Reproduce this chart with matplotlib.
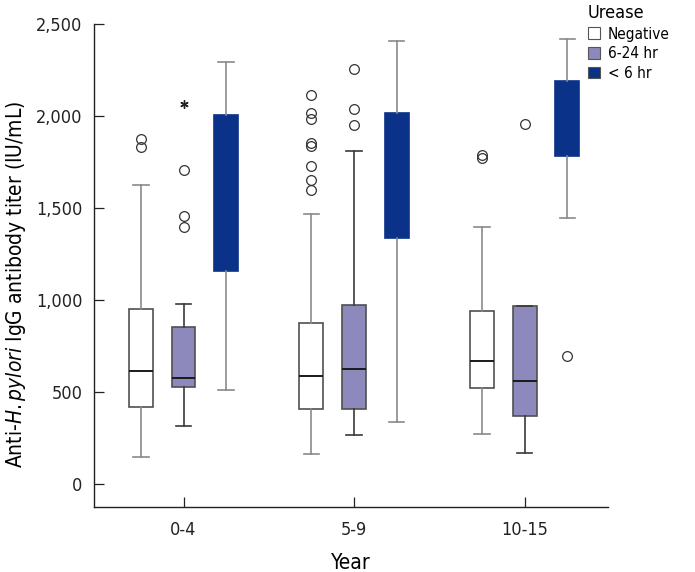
import numpy as np
import matplotlib
matplotlib.use('Agg')
import matplotlib.pyplot as plt
from matplotlib.patches import Patch
from matplotlib import font_manager

# narrow font if the condensed DejaVu face is there, else Liberation Sans
_fp = font_manager.FontProperties(family='DejaVu Sans', stretch='condensed')
if 'Condensed' in font_manager.findfont(_fp, fallback_to_default=False):
    plt.rcParams['font.family'] = ['DejaVu Sans']
    plt.rcParams['font.stretch'] = 'condensed'
    NARROW = True
else:
    plt.rcParams['font.family'] = ['Liberation Sans', 'DejaVu Sans']
    NARROW = False

# Data (IU/mL)
years = ["0-4", "5-9", "10-15"]
groups = ["Negative", "6-24 hr", "< 6 hr"]

# order: for each year, Negative / 6-24 hr / < 6 hr
whislo = [147, 317, 511,   162, 266, 337,   271, 166, 1443]
q1     = [420, 526, 1157,  406, 409, 1337,  519, 371, 1785]
med    = [615, 575, 1600,  588, 626, 1700,  670, 561, 1950]
q3     = [948, 852, 2007,  875, 970, 2014,  939, 966, 2189]
whishi = [1623, 979, 2295, 1467, 1807, 2407, 1394, 966, 2418]
fliers = [
    [1876, 1834], [1707, 1458, 1397], [],
    [2113, 2018, 1982, 1855, 1836, 1727, 1654, 1600], [2255, 2040, 1949], [],
    [1789, 1771], [1958], [697],
]
# extreme outliers (asterisk)
extreme_box = [1]
extreme_val = [2067]

face_colors = ["white", "#8d89bd", "#0a3288"]
edge_colors = ["#505050", "#505050", "#0a3288"]
whisker_colors = ["#8a8a8a", "#3a3a3a", "#8a8a8a"]

fig = plt.figure(figsize=(6.95, 5.72), dpi=100)
ax = fig.add_axes([0.135, 0.114, 0.740, 0.844])

offsets = [-0.25, 0.0, 0.25]
positions = []
for i in range(len(years)):
    for off in offsets:
        positions.append(i + 1 + off)

for k in range(len(q1)):
    g = k % 3
    stats = [dict(whislo=whislo[k], q1=q1[k], med=med[k], q3=q3[k],
                  whishi=whishi[k], fliers=fliers[k])]
    ax.bxp(stats, positions=[positions[k]], widths=0.14, patch_artist=True,
           showfliers=True,
           boxprops=dict(facecolor=face_colors[g], edgecolor=edge_colors[g], linewidth=1.2),
           medianprops=dict(color="#1a1a1a" if g < 2 else face_colors[g], linewidth=1.4),
           whiskerprops=dict(color=whisker_colors[g], linewidth=1.2),
           capprops=dict(color=whisker_colors[g], linewidth=1.2),
           capwidths=0.09,
           flierprops=dict(marker='o', markersize=7, markerfacecolor='none',
                           markeredgecolor='#333333', markeredgewidth=0.9))

for b, v in zip(extreme_box, extreme_val):
    ax.plot([positions[b]], [v], marker=(6, 2, 0), markersize=6, color='#222222',
            linestyle='none', markeredgewidth=1.0)

fs = 1.0 if NARROW else 0.92
ax.set_xlim(0.474, 3.49)
ax.set_ylim(-125, 2500)
ax.set_xticks([1, 2, 3])
ax.set_xticklabels(years)
ax.set_yticks([0, 500, 1000, 1500, 2000, 2500])
ax.set_yticklabels(["0", "500", "1,000", "1,500", "2,000", "2,500"])
ax.tick_params(axis='both', direction='in', length=7, width=0.9, labelsize=13 * fs,
               colors='#222222', pad=8)
ax.tick_params(axis='x', pad=10)
for s in ['top', 'right']:
    ax.spines[s].set_visible(False)
for s in ['left', 'bottom']:
    ax.spines[s].set_linewidth(1.0)
    ax.spines[s].set_color('#222222')

ax.set_xlabel("Year", fontsize=15 * fs, labelpad=10)
ax.set_ylabel("Anti-$\\it{H. pylori}$ IgG antibody titer (IU/mL)", fontsize=15 * fs)
ax.yaxis.set_label_coords(-0.128, 0.46)

handles = [Patch(facecolor=face_colors[i], edgecolor='#555555', linewidth=0.8, label=groups[i])
           for i in range(3)]
leg = fig.legend(handles=handles, title="Urease", loc='upper left',
                 bbox_to_anchor=(0.826, 1.017), frameon=False, fontsize=11 * fs,
                 title_fontsize=13 * fs, handlelength=0.8, handleheight=0.8,
                 handletextpad=0.5, labelspacing=0.3)
leg._legend_box.align = "left"

fig.savefig("out.png", dpi=100)
